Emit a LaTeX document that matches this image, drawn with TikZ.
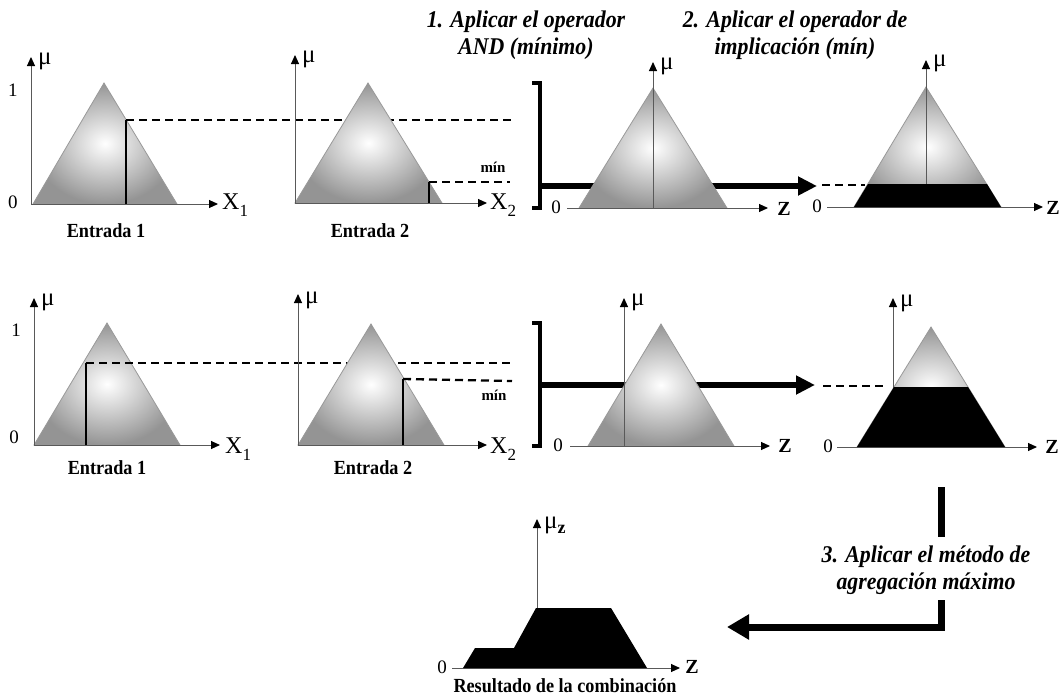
\documentclass[tikz,border=0pt]{standalone}
\usepackage{fontspec}
\setmainfont{Liberation Serif}
\usetikzlibrary{arrows.meta}

\tikzset{
  eje/.style={draw=black!65, line width=1pt, -{Triangle[length=9pt,width=8pt,color=black]}},
  tri/.style={draw=black!40, line width=0.8pt, inner color=white, outer color=black!42},
  corte/.style={line width=2.2pt},
  guia/.style={line width=2.3pt, dash pattern=on 8pt off 5pt},
  flecha/.style={line width=6pt, -{Triangle[length=19pt,width=18pt]}},
  llave/.style={line width=4pt, line join=miter},
  titulo/.style={font=\fontsize{24}{27}\selectfont\bfseries\itshape, align=center},
  etiq/.style={font=\fontsize{20}{20}\selectfont\bfseries},
  num/.style={font=\fontsize{19}{19}\selectfont},
  mu/.style={font=\fontsize{25}{25}\selectfont, anchor=west, inner sep=1pt},
  varx/.style={font=\fontsize{24}{24}\selectfont, anchor=west, inner sep=1pt},
  varz/.style={font=\fontsize{20}{20}\selectfont\bfseries},
  minlab/.style={font=\fontsize{15}{15}\selectfont\bfseries},
}
\newcommand{\subx}[1]{X\raisebox{-7pt}{\fontsize{17}{17}\selectfont #1}}
\newcommand{\estr}[1]{\scalebox{0.91}[1]{#1}}

\begin{document}
\begin{tikzpicture}[x=1pt,y=-1pt]
\useasboundingbox (0,0) rectangle (1063,696);

% titulos
\node[titulo] (t1) at (526,35) {\estr{1. Aplicar el operador}\\\estr{AND (mínimo)}};
\node[titulo] (t2) at (795,35) {\estr{2. Aplicar el operador de}\\\estr{implicación (mín)}};

% ---- regla 1 ----
\draw[llave] (532,83) -- (540,83) -- (540,208) -- (532,208);
\coordinate (ini1) at (540,186);
\coordinate (fin1) at (817,186);
\draw[flecha] (ini1) -- (fin1);

% entrada 1
\shade[tri] (33,204) -- (104,83) -- (177,204) -- cycle;
\draw[eje] (31,204) -- (31,57);
\draw[eje] (31,204) -- (218,204);
\coordinate (c1) at (126,120);
\draw[corte] (126,204) -- (c1);
\coordinate (g1) at (515,120);
\draw[guia] (c1) -- (g1);
\node[mu] (mu1) at (37,61) {μ};
\node[num] (u1) at (13,90) {1};
\node[num] (z1) at (13,202) {0};
\node[varx] (x1) at (221,205) {\subx{1}};
\node[etiq] (e1) at (106,231) {\estr{Entrada 1}};

% entrada 2
\shade[tri] (295,203) -- (368,83) -- (442,203) -- cycle;
\draw[eje] (295,203) -- (295,55);
\draw[eje] (295,203) -- (487,203);
\coordinate (c2) at (429,182);
\draw[corte] (429,203) -- (c2);
\coordinate (g2) at (510,182);
\draw[guia] (c2) -- (g2);
\node[mu] (mu2) at (301,59) {μ};
\node[varx] (x2) at (489,205) {\subx{2}};
\node[minlab] (m2) at (493,167) {mín};
\node[etiq] (e2) at (370,231) {\estr{Entrada 2}};

% consecuente AND
\shade[tri] (579,208) -- (653,88) -- (727,208) -- cycle;
\draw[eje] (653,208) -- (653,62);
\draw[eje] (567,208) -- (768,208);
\node[mu] (mu3) at (659,66) {μ};
\node[num] (z3) at (556,207) {0};
\node[varz] (zz3) at (784,209) {Z};

% implicacion
\coordinate (d4) at (822,185);
\coordinate (k4) at (865,185);
\draw[guia] (d4) -- (k4);
\shade[tri] (854,207) -- (926,87) -- (1001,207) -- cycle;
\draw[eje] (926,207) -- (926,60);
\draw[eje] (827,207) -- (1043,207);
\fill (854,207) -- (868,184) -- (987,184) -- (1001,207) -- cycle;
\node[mu] (mu4) at (932,63) {μ};
\node[num] (z4) at (817,206) {0};
\node[varz] (zz4) at (1053,208) {Z};

% ---- regla 2 ----
\draw[llave] (532,323) -- (540,323) -- (540,446) -- (532,446);
\coordinate (ini2) at (540,385);
\coordinate (fin2) at (815,385);
\draw[flecha] (ini2) -- (fin2);

% entrada 1
\shade[tri] (34,445) -- (107,323) -- (180,445) -- cycle;
\draw[eje] (34,445) -- (34,298);
\draw[eje] (34,445) -- (220,445);
\coordinate (c5) at (86,363);
\draw[corte] (86,445) -- (c5);
\coordinate (g5) at (514,363);
\draw[guia] (c5) -- (g5);
\node[mu] (mu5) at (40,302) {μ};
\node[num] (u5) at (16,330) {1};
\node[num] (z5) at (14,437) {0};
\node[varx] (x5) at (224,449) {\subx{1}};
\node[etiq] (e5) at (107,468) {\estr{Entrada 1}};

% entrada 2
\shade[tri] (298,445) -- (371,324) -- (444,445) -- cycle;
\draw[eje] (298,445) -- (298,294);
\draw[eje] (298,445) -- (487,445);
\coordinate (c6) at (403,379);
\draw[corte] (403,445) -- (c6);
\coordinate (g6) at (512,381);
\draw[guia] (c6) -- (g6);
\node[mu] (mu6) at (304,300) {μ};
\node[varx] (x6) at (489,449) {\subx{2}};
\node[minlab] (m6) at (494,395) {mín};
\node[etiq] (e6) at (373,468) {\estr{Entrada 2}};

% consecuente AND
\shade[tri] (588,446) -- (661,324) -- (734,446) -- cycle;
\draw[eje] (624,446) -- (624,298);
\draw[eje] (570,446) -- (770,446);
\node[mu] (mu7) at (630,302) {μ};
\node[num] (z7) at (558,445) {0};
\node[varz] (zz7) at (785,446) {Z};

% implicacion
\coordinate (d8) at (823,386);
\coordinate (k8) at (883,386);
\draw[guia] (d8) -- (k8);
\shade[tri] (857,447) -- (931,327) -- (1005,447) -- cycle;
\draw[eje] (893,447) -- (893,298);
\draw[eje] (837,447) -- (1037,447);
\fill (857,447) -- (894,387) -- (968,387) -- (1005,447) -- cycle;
\node[mu] (mu8) at (899,303) {μ};
\node[num] (z8) at (828,446) {0};
\node[varz] (zz8) at (1052,447) {Z};

% ---- agregacion ----
\coordinate (a1) at (941,487);
\coordinate (a2) at (941,537);
\draw[line width=7pt] (a1) -- (a2);
\node[titulo] (t3) at (926,570) {\estr{3. Aplicar el método de}\\\estr{agregación máximo}};
\coordinate (a3) at (941,600);
\coordinate (a4) at (941,627);
\coordinate (a5) at (727,627);
\draw[line width=7pt, line join=miter, -{Triangle[length=22pt,width=24pt]}] (a3) -- (a4) -- (a5);

% resultado
\draw[eje] (537,668) -- (537,519);
\draw[eje] (452,668) -- (680,668);
\fill (463,668) -- (475,648) -- (514,648) -- (536,608) -- (611,608) -- (647,668) -- cycle;
\node[mu] (mu9) at (543,525) {μ\raisebox{-5pt}{\fontsize{18}{18}\selectfont\bfseries z}};
\node[num] (z9) at (442,667) {0};
\node[varz] (zz9) at (692,667) {Z};
\node[etiq, anchor=base, inner sep=0pt] (res) at (565,692) {\estr{Resultado de la  combinación}};
\end{tikzpicture}
\end{document}
